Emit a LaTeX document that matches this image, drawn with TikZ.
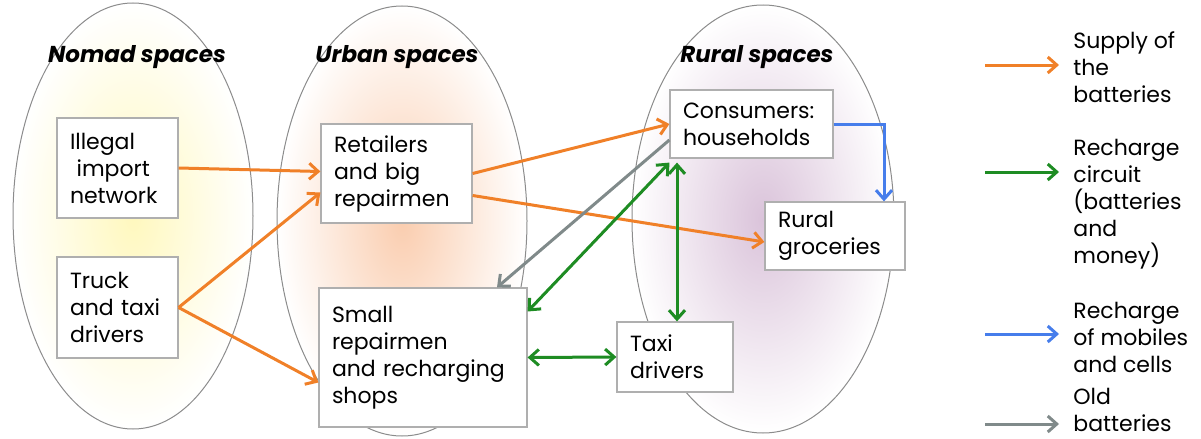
\documentclass[tikz,border=0pt]{standalone}
\usepackage{fontspec}
\setmainfont{Poppins}
\usetikzlibrary{arrows.meta,calc}

\definecolor{supplyorange}{RGB}{240,128,40}
\definecolor{rechargegreen}{RGB}{30,140,35}
\definecolor{mobileblue}{RGB}{70,125,235}
\definecolor{oldgray}{RGB}{128,138,138}
\definecolor{boxgray}{RGB}{175,175,175}
\definecolor{rimgray}{RGB}{140,140,140}
\definecolor{nomadfill}{RGB}{255,248,190}
\definecolor{urbanfill}{RGB}{250,205,175}
\definecolor{ruralfill}{RGB}{218,195,218}

\newcommand{\boxfont}{\fontsize{11}{13.5}\selectfont}
\newcommand{\titlefont}{\fontsize{11.5}{13.5}\selectfont\bfseries\itshape}

\tikzset{
    actor/.style 2 args={draw=boxgray, fill=white, line width=0.6pt, align=left,
        inner xsep=6.5pt, text width=#1, minimum height=#2, font=\boxfont},
    legend text/.style={align=left, anchor=west, inner sep=0pt, font=\boxfont},
    flow/.style={line width=1.5pt, -{Straight Barb[length=4.5pt,width=8pt]}},
    supply/.style={flow, draw=supplyorange},
    recharge/.style={flow, draw=rechargegreen, {Straight Barb[length=4.5pt,width=8pt]}-{Straight Barb[length=4.5pt,width=8pt]}},
    mobile/.style={flow, draw=mobileblue},
    old/.style={flow, draw=oldgray},
    space/.style={draw=rimgray, line width=0.5pt}
}

\begin{document}
\begin{tikzpicture}[x=0.5pt, y=-0.5pt]
    \useasboundingbox (0,0) rectangle (1201,439);

    % the three spaces
    \shade[inner color=nomadfill, outer color=white] (133,216) ellipse [x radius=120, y radius=213];
    \draw[space] (133,216) ellipse [x radius=120, y radius=213];
    \shade[inner color=urbanfill, outer color=white] (402,221) ellipse [x radius=125, y radius=215];
    \draw[space] (402,221) ellipse [x radius=125, y radius=215];
    \shade[inner color=ruralfill, outer color=white] (763,219) ellipse [x radius=131, y radius=214];
    \draw[space] (763,219) ellipse [x radius=131, y radius=214];

    \node[font=\titlefont] at (137,57) (tnomad) {Nomad spaces};
    \node[font=\titlefont] at (397,57) (turban) {Urban spaces};
    \node[font=\titlefont] at (757,57) (trural) {Rural spaces};

    % actors
    \node[actor={47.5pt}{50pt}] at (117.5,168) (illegal) {Illegal\\\hspace{0.3em}import\\network};
    \node[actor={47.5pt}{50.5pt}] at (117.5,307.5) (truck) {Truck\\and taxi\\drivers};
    \node[actor={62.5pt}{49.5pt}] at (396.5,173.5) (retail) {Retailers\\and big\\repairmen};
    \node[actor={91pt}{69.5pt}] at (423,357.5) (small) {Small\\repairmen\\and recharging\\shops};
    \node[actor={68.5pt}{34pt}] at (751.5,124) (cons) {Consumers:\\households};
    \node[actor={57pt}{34pt}] at (835,236) (groc) {Rural\\groceries};
    \node[actor={45pt}{35pt}] at (675,357) (taxi) {Taxi\\drivers};

    % supply of the batteries
    \draw[supply] (illegal.east) -- ([yshift=1pt]retail.west);
    \draw[supply] (truck.east) -- ([yshift=-9.5pt]retail.west);
    \draw[supply] (truck.east) -- ([yshift=-12.5pt]small.west);
    \draw[supply] (retail.east) -- (cons.west);
    \draw[supply] ([yshift=-11pt]retail.east) -- ([yshift=-3pt]groc.west);

    % old batteries
    \draw[old] ([yshift=-8pt]cons.west) -- ([xshift=37pt]small.north);

    % recharge circuit
    \draw[recharge] ([yshift=-2pt]cons.south west) -- ([yshift=23pt]small.east);
    \draw[recharge] (small.east) -- (taxi.west);
    \draw[recharge] ([xshift=1pt]taxi.north) -- ([xshift=1pt,yshift=-2pt]taxi.north |- cons.south);

    % recharge of mobiles
    \draw[mobile] (cons.east) -| ([xshift=24.5pt]groc.north);

    % legend
    \node[legend text] at (1073,67) (lsupply) {Supply of\\the\\batteries};
    \node[legend text] at (1073,204) (lrecharge) {Recharge\\circuit\\(batteries\\and\\money)};
    \node[legend text] at (1073,337) (lmobile) {Recharge\\of mobiles\\and cells};
    \node[legend text] at (1073,410) (lold) {Old\\batteries};
    \coordinate (ksupply) at (985,65);
    \coordinate (krecharge) at (985,172);
    \coordinate (kmobile) at (985,334);
    \coordinate (kold) at (985,424);
    \draw[supply] (ksupply) -- ($(ksupply -| lsupply.west)+(-14,0)$);
    \draw[flow, draw=rechargegreen] (krecharge) -- ($(krecharge -| lrecharge.west)+(-14,0)$);
    \draw[mobile] (kmobile) -- ($(kmobile -| lmobile.west)+(-14,0)$);
    \draw[old] (kold) -- ($(kold -| lold.west)+(-14,0)$);
\end{tikzpicture}
\end{document}
